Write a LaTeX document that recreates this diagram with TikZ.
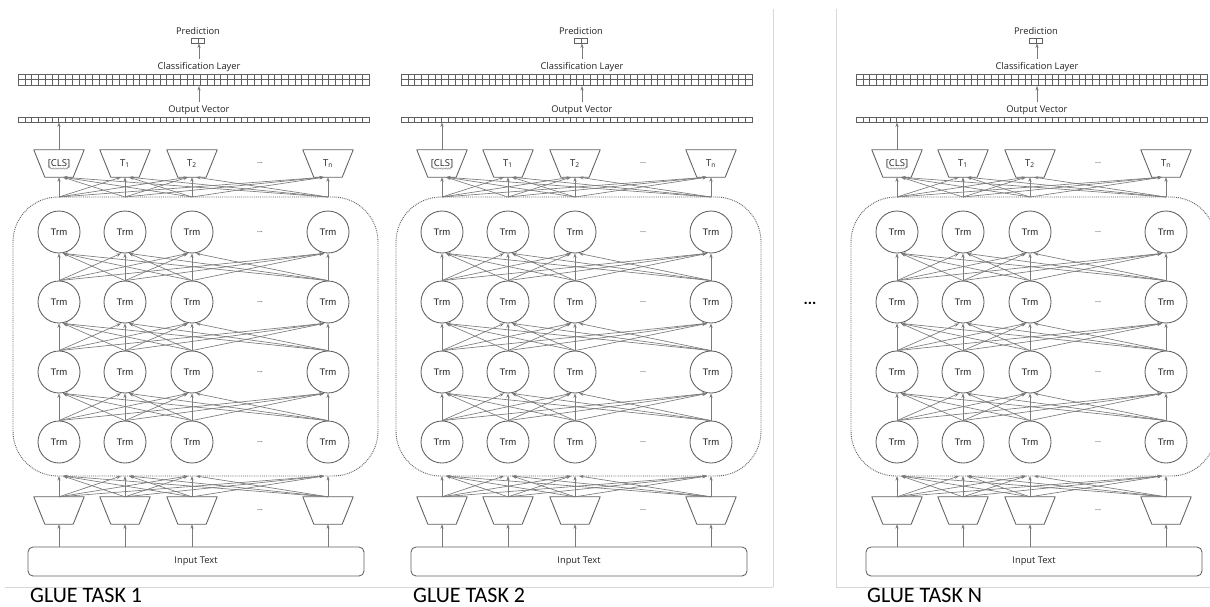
\documentclass[tikz,border=0pt]{standalone}
\usepackage{fontspec}
\setmainfont{Open Sans}
\newfontfamily\gluefont{Carlito}
\newfontfamily\trmfont{Liberation Sans}
\usetikzlibrary{arrows.meta,decorations.pathmorphing}
\definecolor{ln}{HTML}{7A7A7A}
\definecolor{bd}{HTML}{606060}
\definecolor{sepc}{HTML}{D8D8D8}
\definecolor{tx}{HTML}{222222}
\tikzset{
  conn/.style={draw=ln, line width=0.65pt, -{Stealth[length=4.5pt,width=3.2pt]}},
  trm/.style={circle, draw=bd, line width=0.85pt, minimum size=42pt, inner sep=0pt,
    text=tx, font=\trmfont\fontsize{9.5}{9.5}\selectfont},
  trapbox/.style={rectangle, minimum width=50pt, minimum height=27pt, inner sep=0pt,
    text=tx, font=\fontsize{9.5}{9.5}\selectfont},
  trapline/.style={draw=bd, line width=0.85pt, line join=round},
  vecbox/.style={draw=bd, line width=0.7pt, inner sep=0pt},
  cellln/.style={draw=bd, line width=0.5pt},
  lbl/.style={text=tx, inner sep=1pt, font=\fontsize{9.3}{9.3}\selectfont},
  dots/.style={text=tx, inner sep=0pt, font=\fontsize{7.5}{7.5}\selectfont},
  encbox/.style={draw=bd, densely dotted, line width=0.9pt, rounded corners=45pt,
    minimum width=365pt, minimum height=279pt, inner sep=0pt},
  inbox/.style={draw=bd, line width=0.85pt, rounded corners=5pt, minimum width=336pt,
    minimum height=29pt, inner sep=0pt, text=tx, font=\fontsize{9.3}{9.3}\selectfont},
  gluelbl/.style={anchor=base west, inner sep=0pt, text=black, font=\gluefont\fontsize{22}{22}\selectfont},
  sepline/.style={draw=sepc, line width=0.8pt}
}
\newcommand\trapshape[1]{%
  \draw[trapline] (#1.north west) -- (#1.north east) -- ([xshift=-11pt]#1.south east)
    -- ([xshift=11pt]#1.south west) -- cycle;}
\newcommand\drawpanel[2]{%
\begin{scope}[xshift=#1]
  % prediction, classification layer, output vector
  \node[lbl] (#2-predl) at (198,31) {Prediction};
  \node[vecbox, minimum width=13pt, minimum height=5pt] (#2-pred) at (198,40.5) {};
  \draw[cellln] (198,38) -- (198,43);
  \node[lbl] (#2-cll) at (199,67) {Classification Layer};
  \node[vecbox, minimum width=351pt, minimum height=11pt] (#2-cl) at (193.5,79.5) {};
  \foreach \k in {1,...,51} \draw[cellln] ({18+\k*6.75},74) -- ({18+\k*6.75},85);
  \draw[cellln] (18,79.5) -- (369,79.5);
  \node[lbl] (#2-ovl) at (199,110) {Output Vector};
  \node[vecbox, minimum width=351pt, minimum height=5pt] (#2-ov) at (193.5,119.5) {};
  \foreach \k in {1,...,51} \draw[cellln] ({18+\k*6.75},117) -- ({18+\k*6.75},122);
  \coordinate (#2-cla) at (199,59);
  \coordinate (#2-ova) at (199,102);
  \coordinate (#2-pra) at (199,43.5);
  \coordinate (#2-cla2) at (199,86);
  \draw[conn] (#2-cla) -- (#2-pra);
  \draw[conn] (#2-ova) -- (#2-cla2);
  % encoder box
  \node[encbox] (#2-box) at (195.5,336.5) {};
  % columns
  \foreach \x [count=\c] in {59,125,192,328} {
    \foreach \y [count=\r] in {232,302,372,442}
      \node[trm] (#2-r\r-c\c) at (\x,\y) {Trm};
    \coordinate (#2-bt\c) at (\x,197);
    \coordinate (#2-bb\c) at (\x,476);
  }
  \node[trapbox] (#2-t1) at (59,163.5) {[CLS]};
  \node[trapbox] (#2-t2) at (125,163.5) {T\textsubscript{1}};
  \node[trapbox] (#2-t3) at (192,163.5) {T\textsubscript{2}};
  \node[trapbox] (#2-t4) at (328,163.5) {T\textsubscript{n}};
  \foreach \c in {1,...,4} {\trapshape{#2-t\c}}
  \draw[ln, line width=0.4pt, decorate, decoration={snake, amplitude=0.7pt, segment length=2.5pt}]
     (50,168.5) -- (68,168.5);
  \foreach \x [count=\c] in {59,125,192,328} {
    \node[trapbox] (#2-e\c) at (\x,510.5) {};
    \trapshape{#2-e\c}
    \coordinate (#2-in\c) at (\x,547);
  }
  \node[inbox] (#2-in) at (196,561.5) {Input Text};
  % ellipses
  \foreach \y in {163,232,302,372,442,510} \node[dots] at (260,\y) {...};
  % CLS to output vector
  \coordinate (#2-ovc) at (59,122.5);
  \draw[conn] (#2-t1.north) -- (#2-ovc);
  % fan connections
  \foreach \i in {1,...,4} {
    \foreach \j in {1,...,4} {
      \pgfmathsetmacro\off{4*sign(\i-\j)}
      \draw[conn] (#2-bt\i) -- ([xshift=\off pt]#2-t\j.south);
      \draw[conn] (#2-r2-c\i.north) -- ([xshift=\off pt]#2-r1-c\j.south);
      \draw[conn] (#2-r3-c\i.north) -- ([xshift=\off pt]#2-r2-c\j.south);
      \draw[conn] (#2-r4-c\i.north) -- ([xshift=\off pt]#2-r3-c\j.south);
      \draw[conn] (#2-e\i.north) -- ([xshift=\off pt]#2-bb\j);
    }
    \draw[conn] (#2-in\i) -- (#2-e\i.south);
  }
\end{scope}}
\begin{document}
\begin{tikzpicture}[x=1pt,y=-1pt]
  \useasboundingbox (0,0) rectangle (1210,606);
  \fill[white] (0,0) rectangle (1210,606);
  % separators
  \draw[sepline] (5,587) -- (773,587);
  \draw[sepline] (773,9) -- (773,587);
  \draw[sepline] (836,9) -- (836,587) -- (1210,587);
  \drawpanel{0pt}{a}
  \drawpanel{383pt}{b}
  \drawpanel{838pt}{c}
  \node[text=black, font=\gluefont\bfseries\fontsize{16}{16}\selectfont] (mid) at (810,303) {...};
  \node[gluelbl] (g1) at (30,602) {GLUE TASK 1};
  \node[gluelbl] (g2) at (413,602) {GLUE TASK 2};
  \node[gluelbl] (g3) at (867,602) {GLUE TASK N};
\end{tikzpicture}
\end{document}
